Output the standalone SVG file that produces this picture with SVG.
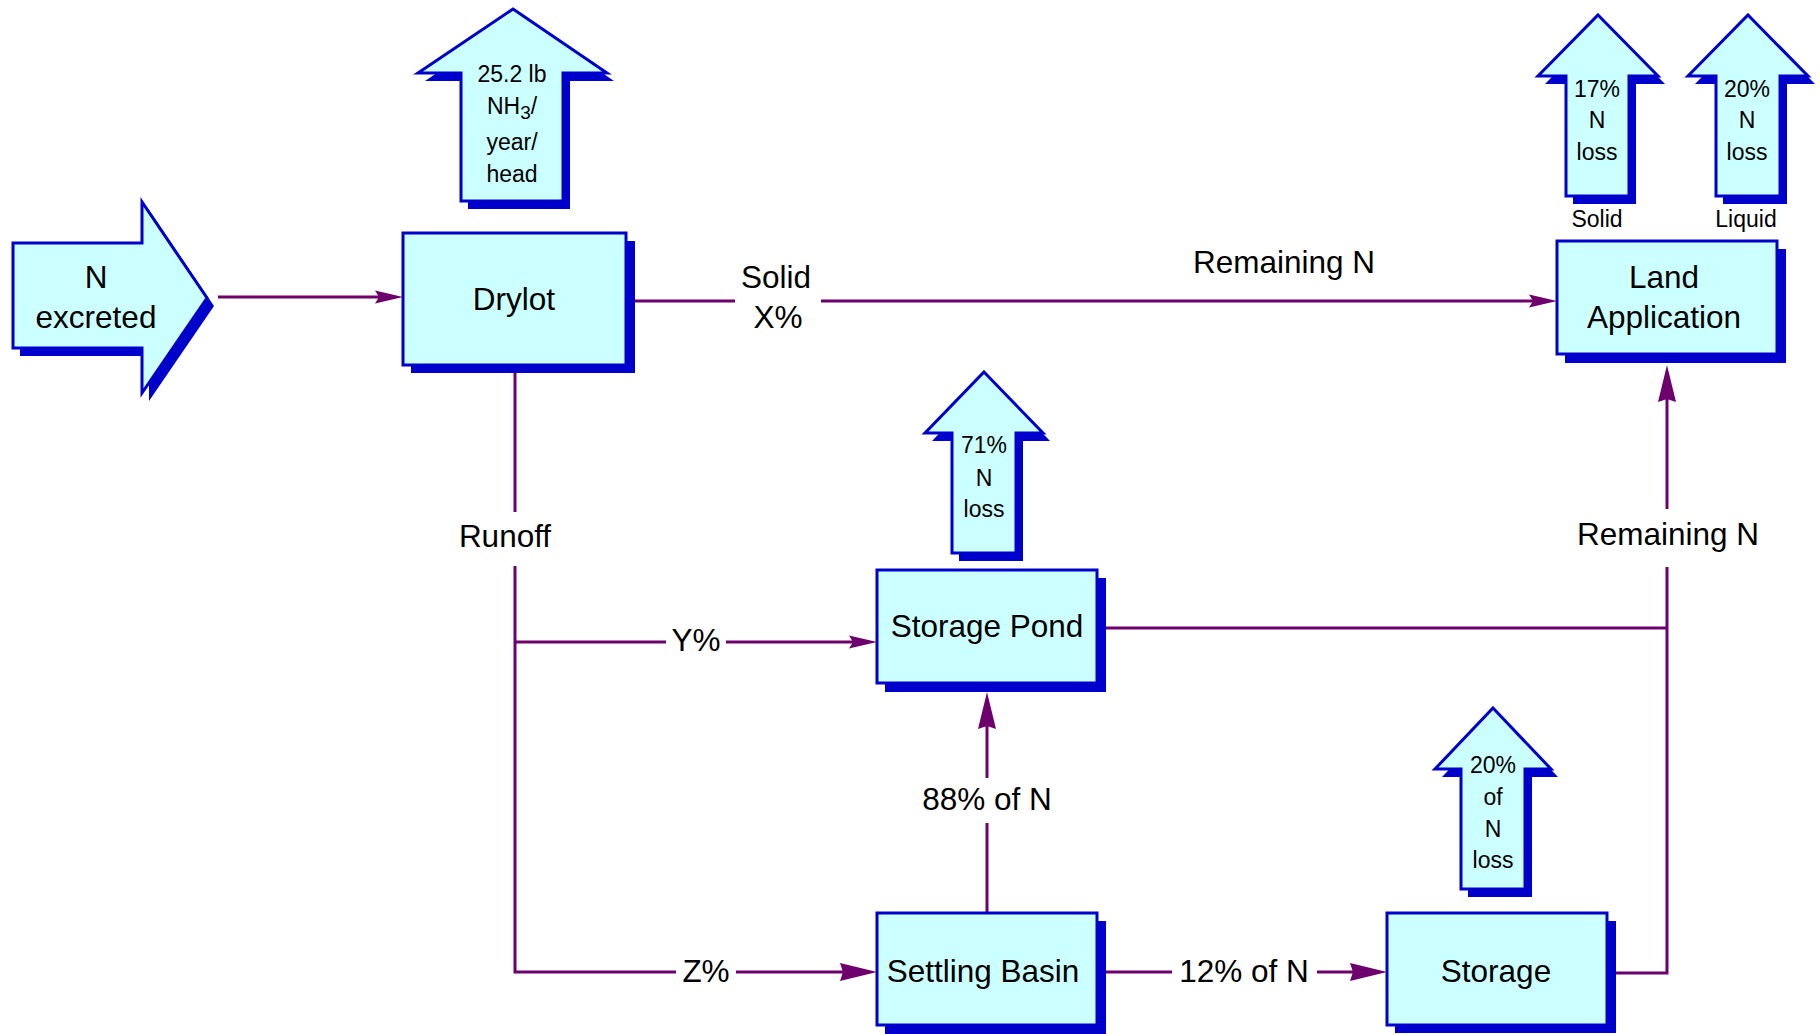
<svg xmlns="http://www.w3.org/2000/svg" width="1820" height="1034" viewBox="0 0 1820 1034">
  <defs>
    <style>
      .shadow { fill: #0000CC; }
      .box { fill: #CCFFFF; stroke: #0000CC; stroke-width: 3; }
      .lbl { font-family: "Liberation Sans", Arial, sans-serif; font-size: 31.5px; fill: #000; text-anchor: middle; }
      .sm { font-family: "Liberation Sans", Arial, sans-serif; font-size: 23px; fill: #000; text-anchor: middle; }
      .conn { fill: none; stroke: #6E006E; stroke-width: 3; }
    </style>
    <marker id="headS" markerUnits="userSpaceOnUse" markerWidth="28" markerHeight="14" refX="18" refY="7" orient="auto">
      <path d="M0,0.5 L28,7 L0,13.5 L4,7 z" fill="#6E006E"/>
    </marker>
    <marker id="headL" markerUnits="userSpaceOnUse" markerWidth="37" markerHeight="18" refX="27" refY="9" orient="auto">
      <path d="M0,0 L37,9 L0,18 L3,9 z" fill="#6E006E"/>
    </marker>
  </defs>
  <rect width="1820" height="1034" fill="#FFFFFF"/>

  <!-- connectors -->
  <g id="connectors">
    <path class="conn" d="M218,297 H393" marker-end="url(#headS)"/>
    <path class="conn" d="M635,301 H735"/>
    <path class="conn" d="M821,301 H1547" marker-end="url(#headS)"/>
    <path class="conn" d="M515,366 V512"/>
    <path class="conn" d="M515,566 V972 H676"/>
    <path class="conn" d="M515,642 H666"/>
    <path class="conn" d="M726,642 H867" marker-end="url(#headS)"/>
    <path class="conn" d="M736,972 H867" marker-end="url(#headL)"/>
    <path class="conn" d="M987,913 V823"/>
    <path class="conn" d="M987,778 V702" marker-end="url(#headL)"/>
    <path class="conn" d="M1106,972 H1172"/>
    <path class="conn" d="M1317,972 H1377" marker-end="url(#headL)"/>
    <path class="conn" d="M1106,628 H1667"/>
    <path class="conn" d="M1616,973 H1667 V567"/>
    <path class="conn" d="M1667,509 V375" marker-end="url(#headL)"/>

    <text class="lbl" x="776" y="288">Solid</text>
    <text class="lbl" x="778" y="328">X%</text>
    <text class="lbl" x="1284" y="273">Remaining N</text>
    <text class="lbl" x="505" y="547">Runoff</text>
    <text class="lbl" x="696" y="651">Y%</text>
    <text class="lbl" x="706" y="982">Z%</text>
    <text class="lbl" x="987" y="810">88% of N</text>
    <text class="lbl" x="1244" y="982">12% of N</text>
    <text class="lbl" x="1668" y="545">Remaining N</text>
  </g>

  <!-- input arrow -->
  <g id="n-excreted">
    <polygon class="shadow" points="20,251 149,251 149,210 214,306 149,401 149,356 20,356"/>
    <polygon class="box" points="13,243 142,243 142,202 207,298 142,393 142,348 13,348"/>
    <text class="lbl" x="96" y="288">N</text>
    <text class="lbl" x="96" y="328">excreted</text>
  </g>

  <g id="drylot">
    <rect class="shadow" x="411" y="241" width="224" height="132"/>
    <rect class="box" x="403" y="233" width="223" height="132"/>
    <text class="lbl" x="514" y="310">Drylot</text>
  </g>

  <g id="loss-drylot">
    <polygon class="shadow" points="520,17 614,81 570,81 570,209 468,209 468,81 425,81"/>
    <polygon class="box" points="513,9 607,73 563,73 563,201 461,201 461,73 418,73"/>
    <text class="sm" x="512" y="82">25.2 lb</text>
    <text class="sm" x="512" y="114">NH<tspan font-size="19" dy="5">3</tspan><tspan dy="-5">/</tspan></text>
    <text class="sm" x="512" y="150">year/</text>
    <text class="sm" x="512" y="182">head</text>
  </g>

  <g id="land-application">
    <rect class="shadow" x="1565" y="249" width="221" height="114"/>
    <rect class="box" x="1557" y="241" width="220" height="113"/>
    <text class="lbl" x="1664" y="288">Land</text>
    <text class="lbl" x="1664" y="328">Application</text>
  </g>

  <g id="loss-solid">
    <polygon class="shadow" points="1605,23 1665,84 1636,84 1636,204 1573,204 1573,84 1545,84"/>
    <polygon class="box" points="1598,15 1658,76 1629,76 1629,196 1566,196 1566,76 1538,76"/>
    <text class="sm" x="1597" y="97">17%</text>
    <text class="sm" x="1597" y="128">N</text>
    <text class="sm" x="1597" y="160">loss</text>
    <text class="sm" x="1597" y="227">Solid</text>
  </g>

  <g id="loss-liquid">
    <polygon class="shadow" points="1755,23 1815,84 1787,84 1787,204 1723,204 1723,84 1695,84"/>
    <polygon class="box" points="1748,15 1808,76 1780,76 1780,196 1716,196 1716,76 1688,76"/>
    <text class="sm" x="1747" y="97">20%</text>
    <text class="sm" x="1747" y="128">N</text>
    <text class="sm" x="1747" y="160">loss</text>
    <text class="sm" x="1746" y="227">Liquid</text>
  </g>

  <g id="storage-pond">
    <rect class="shadow" x="885" y="578" width="221" height="114"/>
    <rect class="box" x="877" y="570" width="220" height="113"/>
    <text class="lbl" x="987" y="637">Storage Pond</text>
  </g>

  <g id="loss-pond">
    <polygon class="shadow" points="991,380 1050,441 1023,441 1023,561 959,561 959,441 932,441"/>
    <polygon class="box" points="984,372 1043,433 1016,433 1016,553 952,553 952,433 925,433"/>
    <text class="sm" x="984" y="453">71%</text>
    <text class="sm" x="984" y="486">N</text>
    <text class="sm" x="984" y="517">loss</text>
  </g>

  <g id="settling-basin">
    <rect class="shadow" x="885" y="921" width="221" height="113"/>
    <rect class="box" x="877" y="913" width="220" height="112"/>
    <text class="lbl" x="983" y="982">Settling Basin</text>
  </g>

  <g id="storage">
    <rect class="shadow" x="1395" y="921" width="221" height="112"/>
    <rect class="box" x="1387" y="913" width="220" height="112"/>
    <text class="lbl" x="1496" y="982">Storage</text>
  </g>

  <g id="loss-storage">
    <polygon class="shadow" points="1500,716 1558,777 1532,777 1532,897 1468,897 1468,777 1442,777"/>
    <polygon class="box" points="1493,708 1551,769 1525,769 1525,889 1461,889 1461,769 1435,769"/>
    <text class="sm" x="1493" y="773">20%</text>
    <text class="sm" x="1493" y="805">of</text>
    <text class="sm" x="1493" y="837">N</text>
    <text class="sm" x="1493" y="868">loss</text>
  </g>
</svg>
